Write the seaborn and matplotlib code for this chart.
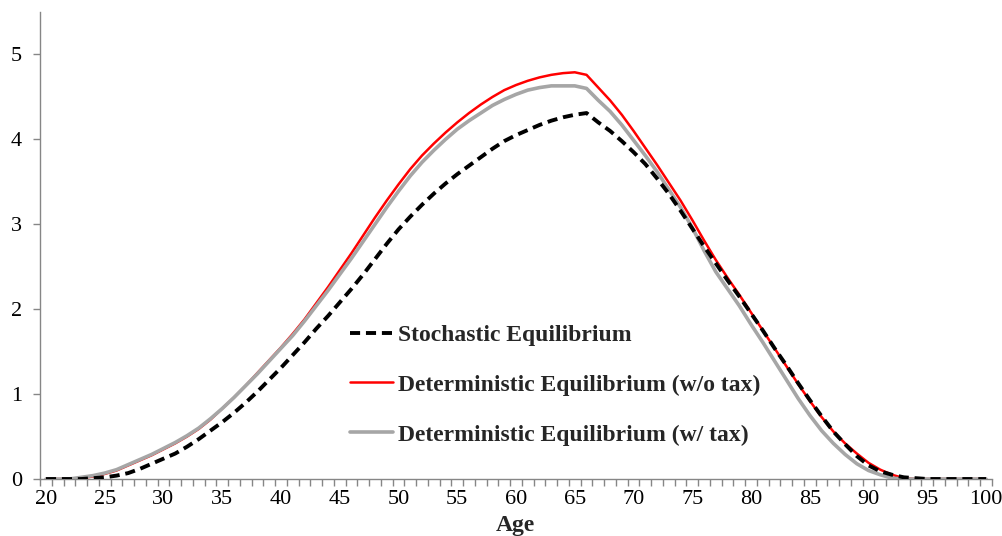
import numpy as np
import pandas as pd
import matplotlib
matplotlib.use("Agg")
import matplotlib.pyplot as plt
import seaborn as sns
from matplotlib.ticker import FixedLocator

ages = list(range(20, 101))

stochastic = [
    0.00, 0.00, 0.00, 0.00, 0.01, 0.02, 0.04, 0.07, 0.12, 0.18,
    0.24, 0.30, 0.38, 0.47, 0.57, 0.67, 0.78, 0.90, 1.03, 1.17,
    1.31, 1.46, 1.61, 1.77, 1.92, 2.08, 2.24, 2.41, 2.59, 2.77,
    2.94, 3.09, 3.23, 3.36, 3.48, 3.59, 3.69, 3.79, 3.89, 3.98,
    4.05, 4.11, 4.17, 4.22, 4.26, 4.29, 4.31, 4.20, 4.10, 3.98,
    3.85, 3.71, 3.54, 3.36, 3.16, 2.95, 2.74, 2.54, 2.34, 2.15,
    1.95, 1.75, 1.54, 1.34, 1.13, 0.93, 0.74, 0.56, 0.41, 0.27,
    0.16, 0.09, 0.05, 0.02, 0.01, 0.00, 0.00, 0.00, 0.00, 0.00,
    0.00,
]

det_no_tax = [
    0.00, 0.00, 0.00, 0.01, 0.03, 0.06, 0.10, 0.16, 0.22, 0.28,
    0.35, 0.42, 0.50, 0.59, 0.70, 0.83, 0.96, 1.10, 1.25, 1.40,
    1.55, 1.71, 1.88, 2.07, 2.26, 2.46, 2.66, 2.87, 3.08, 3.28,
    3.47, 3.65, 3.81, 3.95, 4.08, 4.20, 4.31, 4.41, 4.50, 4.58,
    4.64, 4.69, 4.73, 4.76, 4.78, 4.79, 4.76, 4.61, 4.46, 4.29,
    4.10, 3.90, 3.70, 3.49, 3.28, 3.05, 2.81, 2.58, 2.37, 2.17,
    1.96, 1.75, 1.54, 1.33, 1.12, 0.92, 0.73, 0.56, 0.42, 0.30,
    0.19, 0.11, 0.05, 0.01, 0.00, 0.00, 0.00, 0.00, 0.00, 0.00,
    0.00,
]

det_tax = [
    0.00, 0.00, 0.00, 0.02, 0.04, 0.07, 0.11, 0.17, 0.23, 0.29,
    0.36, 0.43, 0.51, 0.60, 0.71, 0.83, 0.96, 1.10, 1.24, 1.39,
    1.54, 1.69, 1.86, 2.04, 2.22, 2.41, 2.60, 2.80, 3.00, 3.20,
    3.39, 3.57, 3.73, 3.87, 4.00, 4.12, 4.22, 4.31, 4.40, 4.47,
    4.53, 4.58, 4.61, 4.63, 4.63, 4.63, 4.60, 4.46, 4.33, 4.17,
    3.99, 3.81, 3.62, 3.41, 3.20, 2.96, 2.69, 2.44, 2.24, 2.04,
    1.82, 1.61, 1.39, 1.17, 0.95, 0.75, 0.57, 0.42, 0.29, 0.18,
    0.10, 0.05, 0.01, 0.00, 0.00, 0.00, 0.00, 0.00, 0.00, 0.00,
    0.00,
]

labels = ["Stochastic Equilibrium",
          "Deterministic Equilibrium (w/o tax)",
          "Deterministic Equilibrium (w/ tax)"]

sns.set_style("white")
plt.rcParams["font.family"] = ["Liberation Serif", "DejaVu Serif"]

fig = plt.figure(figsize=(10.02, 5.36), dpi=100)
ax = fig.add_axes([0.04, 0.1063, 0.95, 0.8713])

axis_gray = "#868686"

# draw order: red under gray, dashed on top
sns.lineplot(x=ages, y=det_no_tax, ax=ax, color="#ff0000", linewidth=1.8,
             label=labels[1], zorder=2)
sns.lineplot(x=ages, y=det_tax, ax=ax, color="#a6a6a6", linewidth=2.6,
             label=labels[2], zorder=3)
sns.lineplot(x=ages, y=stochastic, ax=ax, color="black", linewidth=2.8,
             label=labels[0], zorder=4)
ax.lines[2].set_dashes([2.6, 1.5])

ax.set_xlim(19.5, 100.5)
ax.set_ylim(0, 5.5)
ax.xaxis.set_major_locator(FixedLocator(list(range(20, 101, 5))))
ax.xaxis.set_minor_locator(FixedLocator(list(np.arange(19.5, 101, 1.0))))
ax.yaxis.set_major_locator(FixedLocator([0, 1, 2, 3, 4, 5]))

ax.tick_params(axis="x", which="major", length=0, labelsize=16, pad=8, colors="black")
ax.tick_params(axis="x", which="minor", length=5, width=1, color=axis_gray, direction="out")
ax.tick_params(axis="y", which="major", length=5, width=1, color=axis_gray,
               direction="out", labelsize=16, pad=8, labelcolor="black")
ax.tick_params(axis="both", bottom=True, left=True)
ax.tick_params(axis="x", which="minor", bottom=True)

for side in ["top", "right"]:
    ax.spines[side].set_visible(False)
for side in ["left", "bottom"]:
    ax.spines[side].set_color(axis_gray)
    ax.spines[side].set_linewidth(1)

ax.set_xlabel("Age", fontsize=17, fontweight="bold")
ax.xaxis.set_label_coords(0.499, -0.076)
ax.set_ylabel("")

handles, hl = ax.get_legend_handles_labels()
order = [hl.index(l) for l in labels]
leg = ax.legend([handles[i] for i in order], [hl[i] for i in order],
                loc="upper left", bbox_to_anchor=(0.349, 0.395), bbox_transform=fig.transFigure,
                frameon=False, prop={"weight": "bold", "size": 17},
                handlelength=1.85, handletextpad=0.2, labelspacing=1.2,
                borderpad=0, borderaxespad=0)

fig.savefig("out.png", dpi=100)
